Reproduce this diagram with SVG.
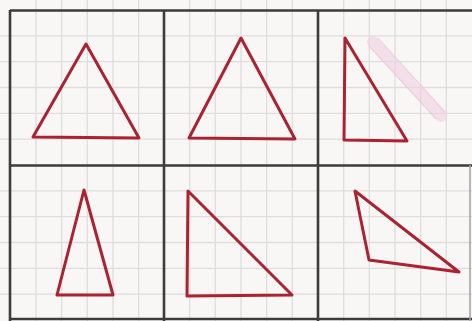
<svg xmlns="http://www.w3.org/2000/svg" width="472" height="321" viewBox="0 0 472 321">
  <style>
    .bg { fill: #f8f7f5; }
    .fine { stroke: #dedede; stroke-width: 1.3; fill: none; }
    .bold { stroke: #3c3c3c; stroke-width: 2.6; fill: none; }
    .tri { stroke: #ab2230; stroke-width: 3; fill: none; stroke-linejoin: round; }
    .smudge { stroke: #efd0e2; stroke-width: 12; stroke-linecap: round; opacity: 0.6; }
    .smudge-edge { stroke: #e9bcd6; stroke-width: 1.2; opacity: 0.5; fill: none; }
  </style>
  <rect class="bg" x="0" y="0" width="472" height="321"/>
  <g id="fine-grid" class="fine">
    <path d="M36 0V321 M61.7 0V321 M87.3 0V321 M113 0V321 M138.7 0V321
             M189.7 0V321 M215.3 0V321 M241 0V321 M266.7 0V321 M292.3 0V321
             M343.7 0V321 M369.3 0V321 M395 0V321 M420.7 0V321 M446.3 0V321"/>
    <path d="M0 35.8H472 M0 61.7H472 M0 87.5H472 M0 113.3H472 M0 139.2H472
             M0 190.8H472 M0 216.7H472 M0 242.5H472 M0 268.3H472 M0 294.2H472"/>
  </g>
  <g id="bold-grid" class="bold">
    <path d="M10 10V321 M164 10V321 M318 10V321"/>
    <path d="M10 10.5H472 M10 165.5H472 M10 319H472"/>
    <path d="M470 165V321" style="stroke:#a0a0a0;stroke-width:1.5"/>
  </g>
  <g id="smudge">
    <line class="smudge" x1="373" y1="42" x2="441" y2="116"/>
    <path class="smudge-edge" d="M369 46 L436 119 M378 38 L445 112"/>
  </g>
  <g id="triangle-1"><polygon class="tri" points="86,44 33,137 139,138"/></g>
  <g id="triangle-2"><polygon class="tri" points="241,38 189,138 295,139"/></g>
  <g id="triangle-3"><polygon class="tri" points="345,38 344,140 407,141"/></g>
  <g id="triangle-4"><polygon class="tri" points="84,190 57,295 113,295"/></g>
  <g id="triangle-5"><polygon class="tri" points="188,191 187,296 292,295"/></g>
  <g id="triangle-6"><polygon class="tri" points="355,191 369,260 459,272"/></g>
</svg>
